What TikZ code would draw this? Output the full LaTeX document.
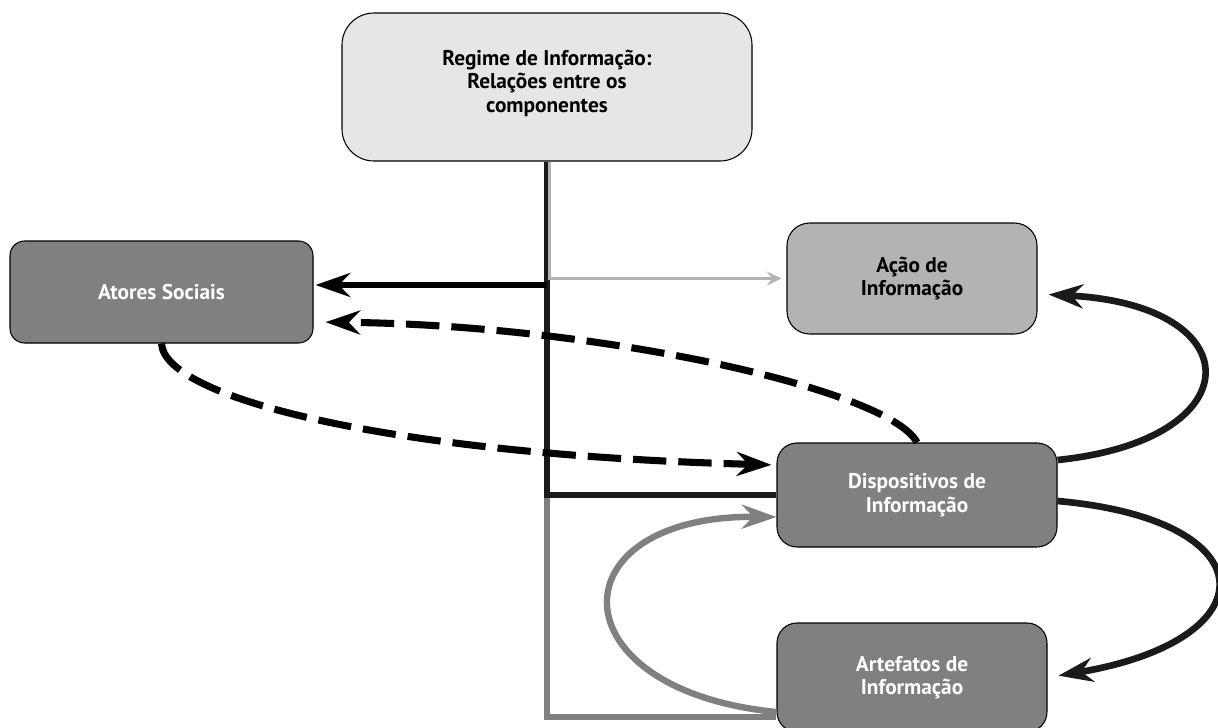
\documentclass[tikz,border=0pt]{standalone}
\usepackage{fontspec}
\setmainfont{PT Sans}
\usetikzlibrary{arrows.meta}
\definecolor{lightbox}{HTML}{E6E6E6}
\definecolor{midbox}{HTML}{B3B3B3}
\definecolor{darkbox}{HTML}{808080}
\definecolor{ink}{HTML}{1A1A1A}
\definecolor{paleline}{HTML}{B3B3B3}
\definecolor{grayline}{HTML}{808080}
\begin{document}
\begin{tikzpicture}[x=0.75pt,y=-0.75pt,
  box/.style={draw=black, line width=0.8pt, align=center, inner sep=0pt,
    font=\bfseries\fontsize{16}{17.6}\selectfont},
  darkb/.style={box, fill=darkbox, text=white},
  bighead/.style={-{Stealth[length=26pt,width=18pt,inset=8.5pt]}},
  solidblack/.style={bighead, draw=ink, line width=5pt},
  dashblack/.style={bighead, draw=black, line width=5.3pt, dash pattern=on 25pt off 9pt},
  graycurve/.style={bighead, draw=grayline, line width=4.8pt},
]
\useasboundingbox (0,0) rectangle (1218,728);

% boxes
\node[box, fill=lightbox, rounded corners=24pt, minimum width=307.5pt, minimum height=111pt] (regime) at (547,87) {};
\node[box, draw=none, fill=none] (regimetext) at (547,83) {Regime de Informação:\\Relações entre os\\componentes};
\node[darkb, rounded corners=11pt, minimum width=227.25pt, minimum height=76.5pt] (ate) at (161.5,292) {Atores Sociais};
\node[box, fill=midbox, rounded corners=17pt, minimum width=187.5pt, minimum height=83.25pt] (act) at (912,278.5) {Ação de\\Informação};
\node[darkb, rounded corners=15pt, minimum width=210pt, minimum height=78pt] (disp) at (917,495) {Dispositivos de\\Informação};
\node[darkb, rounded corners=15pt, minimum width=202.5pt, minimum height=81.75pt] (art) at (912,677.5) {Artefatos de\\Informação};

\coordinate (jdisp) at (regime.south |- disp.west);
\coordinate (jate) at (547,285);

% tree of straight connectors
\draw[draw=grayline, line width=5.2pt, line join=miter] (jdisp) |- ([yshift=-29.6pt]art.west);
\draw[draw=ink, line width=5.2pt, line join=miter] (regime.south) |- (disp.west);
\draw[-{Stealth[length=11pt,width=10.5pt,inset=4pt]}, draw=paleline, line width=2.2pt, shorten >=3.75pt]
  ([xshift=1.9pt]regime.south) |- (act.west);
\draw[solidblack, draw=black, line width=5.2pt, shorten >=1.5pt] (jate) -- ([yshift=5.25pt]ate.east);

% curved connectors
\draw[solidblack, shorten >=8.25pt] ([yshift=26.25pt]disp.east) .. controls (1253,440) and (1253,305) .. ([yshift=-11.6pt]act.east);
\draw[solidblack, shorten >=8.25pt] ([yshift=-4.5pt]disp.east) .. controls (1270,520) and (1270,640) .. (art.east);
\draw[graycurve] ([yshift=-25.9pt]art.west) .. controls (554,690) and (554,515) .. ([yshift=-16.5pt]disp.west);
\draw[dashblack, shorten >=9pt] (disp.north) .. controls (890,390) and (600,325) .. ([yshift=-22.5pt]ate.east);
\draw[dashblack, shorten >=3.75pt] (ate.south) .. controls (165,400) and (400,455) .. ([yshift=22.5pt]disp.west);
\end{tikzpicture}
\end{document}
